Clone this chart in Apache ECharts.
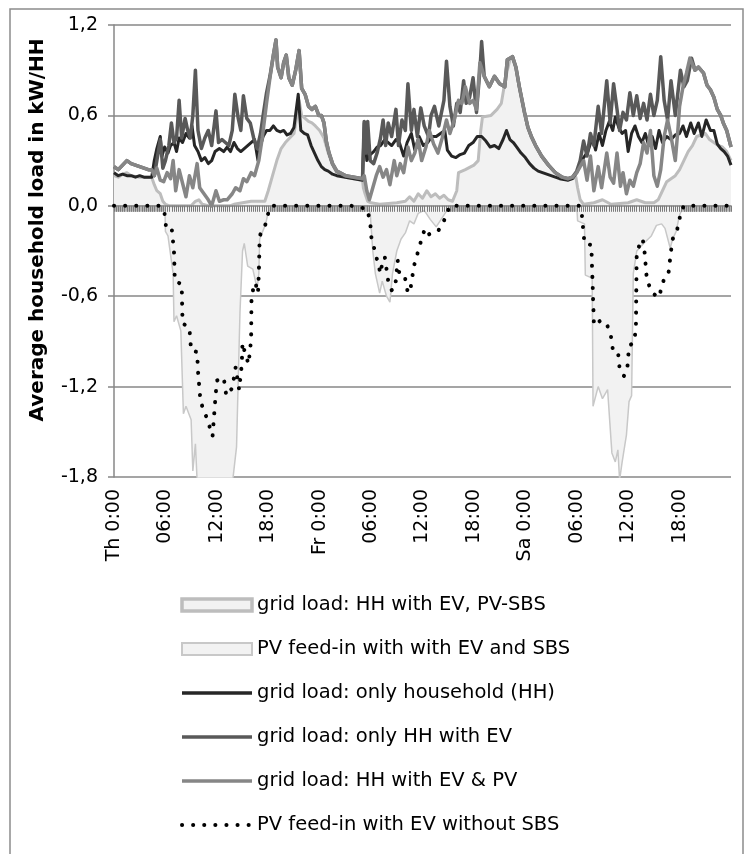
<!DOCTYPE html>
<html>
<head>
<meta charset="utf-8">
<script src="https://cdn.jsdelivr.net/npm/echarts@6/dist/echarts.min.js"></script>
<style>
html, body { margin: 0; padding: 0; background: #fff; }
#main { width: 744px; height: 854px; }
</style>
</head>
<body>
<div id="main"></div>
<script>
'use strict';
// x axis: hours since Thursday 0:00, one label every 6 h
var xTickLabels = ['Th 0:00', '06:00', '12:00', '18:00', 'Fr 0:00', '06:00', '12:00', '18:00', 'Sa 0:00', '06:00', '12:00', '18:00'];
var seriesNames = [
	'grid load: HH with EV, PV-SBS',
	'PV feed-in with with EV and SBS',
	'grid load: only household (HH)',
	'grid load: only HH with EV',
	'grid load: HH with EV & PV',
	'PV feed-in with EV without SBS'
];

// [hour, kW/HH]
var gridSbs = [[0,0.2],[0.5,0.19],[1,0.21],[1.5,0.22],[2,0.2],[3,0.19],[4,0.19],[4.4,0.19],[4.7,0.14],[5,0.1],[5.4,0.08],[5.7,0.03],[6,0.01],[6.5,0],[9,0],[9.5,0.03],[9.9,0.04],[10.3,0.01],[11,0],[13.5,0],[14,0.01],[15,0.02],[16,0.03],[17.6,0.03],[18,0.1],[18.5,0.2],[19,0.3],[19.5,0.38],[20,0.42],[20.5,0.45],[21,0.48],[21.3,0.58],[21.6,0.7],[21.9,0.6],[22.3,0.58],[22.7,0.56],[23.1,0.55],[23.5,0.53],[24,0.5],[24.5,0.45],[25,0.35],[25.5,0.27],[26,0.22],[27,0.19],[28,0.18],[29,0.17],[29.1,0.12],[29.3,0.08],[29.6,0.03],[30,0.02],[31,0.01],[33,0.02],[34,0.03],[34.5,0.06],[35,0.03],[35.5,0.08],[36,0.05],[36.5,0.1],[37,0.06],[37.5,0.08],[38,0.05],[38.5,0.07],[39,0.04],[39.5,0.03],[40,0.1],[40.2,0.22],[41,0.24],[42,0.27],[42.5,0.3],[42.8,0.5],[43,0.59],[44,0.6],[44.7,0.64],[45.2,0.68],[45.7,0.85],[46.2,0.97],[46.5,0.99],[46.9,0.92],[47.3,0.79],[47.9,0.62],[48.3,0.52],[48.7,0.46],[49.2,0.4],[49.9,0.33],[50.7,0.27],[51.5,0.22],[52.3,0.19],[53,0.17],[53.5,0.18],[53.9,0.19],[54.1,0.12],[54.4,0.04],[54.8,0.01],[56,0.02],[57,0.04],[58,0.01],[60,0.02],[61,0.04],[62,0.02],[63,0.02],[63.5,0.04],[64,0.1],[64.5,0.16],[65.5,0.2],[66,0.24],[66.5,0.3],[67,0.36],[67.5,0.4],[68,0.46],[69,0.48],[69.5,0.44],[70,0.42],[70.5,0.4],[71,0.39],[71.5,0.36],[72,0.3]];

var feedSbs = [[0,0],[5.7,0],[5.95,-0.02],[6,-0.17],[6.3,-0.2],[6.9,-0.45],[7,-0.77],[7.3,-0.73],[7.8,-0.83],[8.1,-1.38],[8.4,-1.33],[9,-1.42],[9.2,-1.76],[9.5,-1.58],[9.8,-1.95],[13.6,-1.95],[14.3,-1.6],[14.5,-1.15],[14.7,-0.71],[15,-0.3],[15.2,-0.25],[15.6,-0.4],[16.2,-0.42],[16.7,-0.55],[16.9,-0.45],[17,-0.22],[17.7,-0.12],[18,-0.04],[18.3,0],[29.7,0],[29.9,-0.05],[30.2,-0.3],[30.5,-0.45],[31,-0.58],[31.3,-0.5],[31.8,-0.6],[32.2,-0.64],[32.5,-0.45],[33,-0.3],[33.5,-0.22],[34,-0.18],[34.5,-0.1],[35,-0.12],[35.5,-0.05],[36.2,-0.03],[36.9,-0.09],[37.6,-0.14],[38.4,-0.07],[39.2,0],[54,0],[54.1,-0.1],[54.9,-0.12],[55,-0.46],[55.8,-0.48],[55.9,-1.33],[56.5,-1.2],[57,-1.28],[57.6,-1.22],[58.1,-1.64],[58.5,-1.7],[58.8,-1.62],[59,-1.82],[59.3,-1.7],[59.8,-1.52],[60.1,-1.3],[60.4,-1.26],[60.6,-0.45],[61,-0.3],[61.8,-0.25],[62.7,-0.2],[63.3,-0.13],[63.9,-0.12],[64.3,-0.15],[64.9,-0.28],[65.2,-0.22],[65.6,-0.17],[66,-0.06],[66.5,0],[72,0]];

var hhOnly = [[0,0.22],[0.5,0.2],[1,0.21],[1.5,0.2],[2,0.2],[2.5,0.19],[3,0.2],[3.5,0.19],[4,0.19],[4.4,0.19],[4.7,0.3],[5,0.38],[5.4,0.46],[5.6,0.33],[5.9,0.39],[6.3,0.35],[6.6,0.4],[7,0.42],[7.3,0.36],[7.6,0.45],[8,0.42],[8.4,0.48],[8.8,0.45],[9.1,0.53],[9.4,0.4],[9.8,0.36],[10.2,0.3],[10.6,0.32],[11,0.28],[11.4,0.3],[11.8,0.36],[12.3,0.38],[12.8,0.36],[13.2,0.39],[13.6,0.36],[14,0.42],[14.4,0.38],[14.8,0.36],[15.2,0.38],[15.6,0.4],[16,0.42],[16.4,0.44],[16.8,0.3],[17.1,0.4],[17.4,0.46],[17.8,0.5],[18.2,0.5],[18.6,0.53],[19,0.5],[19.4,0.49],[19.8,0.5],[20.2,0.47],[20.6,0.48],[21,0.52],[21.5,0.74],[21.8,0.5],[22.2,0.48],[22.6,0.47],[23,0.4],[23.4,0.35],[23.8,0.3],[24.2,0.26],[24.6,0.24],[25,0.23],[25.5,0.21],[26,0.2],[27,0.19],[28,0.18],[29,0.17],[29.2,0.55],[29.5,0.3],[29.9,0.34],[30.3,0.36],[30.7,0.39],[31.1,0.4],[31.6,0.44],[32,0.42],[32.4,0.4],[32.9,0.44],[33.3,0.42],[33.8,0.33],[34.2,0.42],[34.7,0.48],[35.1,0.37],[35.6,0.46],[36.1,0.4],[36.6,0.42],[37.1,0.46],[37.6,0.46],[38.1,0.48],[38.6,0.5],[38.9,0.37],[39.4,0.33],[39.9,0.32],[40.4,0.34],[40.9,0.35],[41.4,0.4],[41.9,0.42],[42.4,0.46],[42.9,0.46],[43.4,0.43],[43.9,0.39],[44.4,0.4],[44.9,0.38],[45.4,0.44],[45.8,0.5],[46.2,0.44],[46.6,0.42],[47,0.39],[47.5,0.35],[48,0.32],[48.5,0.28],[49,0.25],[49.5,0.23],[50,0.22],[51,0.2],[52,0.18],[53,0.17],[53.5,0.18],[54,0.22],[54.4,0.28],[54.8,0.32],[55.3,0.36],[55.8,0.45],[56.2,0.37],[56.6,0.48],[57,0.4],[57.4,0.5],[57.8,0.56],[58.2,0.5],[58.5,0.59],[58.9,0.52],[59.3,0.48],[59.7,0.5],[60,0.36],[60.4,0.48],[60.8,0.53],[61.2,0.46],[61.6,0.42],[62,0.48],[62.4,0.4],[62.8,0.46],[63.2,0.38],[63.6,0.5],[64,0.42],[64.5,0.46],[65,0.44],[65.5,0.47],[66,0.48],[66.4,0.53],[66.8,0.46],[67.3,0.55],[67.7,0.48],[68.2,0.55],[68.6,0.46],[69.1,0.57],[69.6,0.5],[70,0.5],[70.4,0.41],[70.8,0.38],[71.2,0.36],[71.6,0.33],[72,0.27]];

var hhEv = [[0,0.26],[0.5,0.24],[1,0.27],[1.5,0.3],[2,0.28],[2.5,0.27],[3,0.26],[3.5,0.25],[4,0.24],[4.4,0.24],[4.7,0.2],[5,0.3],[5.4,0.44],[5.7,0.25],[6,0.3],[6.4,0.4],[6.7,0.55],[7,0.42],[7.3,0.45],[7.6,0.7],[7.9,0.45],[8.3,0.58],[8.6,0.5],[8.9,0.45],[9.2,0.6],[9.5,0.9],[9.8,0.5],[10.2,0.38],[10.6,0.45],[11,0.5],[11.4,0.4],[11.9,0.63],[12.2,0.42],[12.6,0.44],[13,0.42],[13.4,0.4],[13.8,0.5],[14.1,0.74],[14.5,0.58],[14.8,0.5],[15.1,0.73],[15.5,0.58],[15.9,0.55],[16.3,0.45],[16.7,0.38],[17.1,0.48],[17.4,0.6],[17.8,0.75],[18.2,0.86],[18.6,1.0],[18.9,1.1],[19.1,0.92],[19.5,0.85],[19.8,0.95],[20.1,1.0],[20.4,0.85],[20.8,0.8],[21.2,0.9],[21.6,1.03],[21.9,0.78],[22.3,0.74],[22.7,0.66],[23.1,0.64],[23.5,0.66],[23.9,0.6],[24.2,0.6],[24.5,0.55],[24.8,0.42],[25.1,0.35],[25.5,0.28],[26,0.23],[27,0.2],[28,0.19],[29,0.18],[29.2,0.56],[29.4,0.35],[29.6,0.56],[29.9,0.3],[30.3,0.28],[30.7,0.35],[31.1,0.45],[31.4,0.57],[31.7,0.4],[32,0.55],[32.4,0.46],[32.9,0.64],[33.2,0.4],[33.6,0.57],[34,0.5],[34.3,0.81],[34.7,0.5],[35,0.64],[35.4,0.46],[35.8,0.65],[36.2,0.53],[36.7,0.46],[37,0.6],[37.4,0.66],[37.9,0.53],[38.5,0.7],[38.8,0.96],[39.2,0.66],[39.6,0.53],[40,0.68],[40.4,0.62],[40.8,0.83],[41.1,0.68],[41.5,0.72],[41.9,0.85],[42.3,0.62],[42.7,0.9],[42.9,1.09],[43.2,0.86],[43.8,0.79],[44.4,0.86],[45,0.81],[45.6,0.79],[45.9,0.97],[46.5,0.99],[46.9,0.92],[47.3,0.79],[47.9,0.62],[48.3,0.52],[48.7,0.46],[49.2,0.4],[49.9,0.33],[50.7,0.27],[51.5,0.22],[52.3,0.19],[53,0.18],[53.5,0.19],[54,0.23],[54.4,0.3],[54.8,0.43],[55.2,0.33],[55.6,0.48],[56,0.4],[56.5,0.66],[56.9,0.48],[57.5,0.83],[57.9,0.55],[58.3,0.81],[58.7,0.64],[59,0.5],[59.4,0.62],[59.8,0.57],[60.2,0.75],[60.6,0.6],[61,0.73],[61.4,0.58],[61.8,0.68],[62.2,0.57],[62.6,0.74],[63,0.6],[63.4,0.7],[63.8,0.99],[64.2,0.7],[64.6,0.57],[65,0.83],[65.5,0.6],[65.8,0.75],[66.1,0.9],[66.5,0.79],[66.9,0.83],[67.4,0.98],[67.8,0.9],[68.2,0.92],[68.8,0.88],[69.2,0.8],[69.6,0.77],[70,0.72],[70.4,0.64],[70.8,0.6],[71.1,0.55],[71.5,0.5],[72,0.39]];

var hhEvPv = [[0,0.26],[0.5,0.24],[1,0.27],[1.5,0.3],[2,0.28],[2.5,0.27],[3,0.26],[3.5,0.25],[4,0.24],[4.4,0.24],[4.7,0.2],[5,0.25],[5.4,0.17],[5.8,0.16],[6.2,0.22],[6.6,0.18],[6.9,0.3],[7.2,0.1],[7.6,0.24],[8,0.15],[8.4,0.06],[8.8,0.2],[9.2,0.12],[9.7,0.28],[10,0.12],[10.5,0.08],[11,0.04],[11.4,0],[11.9,0.1],[12.3,0.03],[12.8,0.04],[13.2,0.04],[13.8,0.08],[14.2,0.12],[14.7,0.1],[15.1,0.18],[15.5,0.16],[16,0.22],[16.4,0.2],[16.9,0.3],[17.3,0.45],[17.8,0.68],[18.2,0.85],[18.6,1.0],[18.9,1.1],[19.1,0.92],[19.5,0.85],[19.8,0.95],[20.1,1.0],[20.4,0.85],[20.8,0.8],[21.2,0.9],[21.6,1.03],[21.9,0.78],[22.3,0.74],[22.7,0.66],[23.1,0.64],[23.5,0.66],[23.9,0.6],[24.2,0.6],[24.5,0.55],[24.8,0.42],[25.1,0.35],[25.5,0.28],[26,0.23],[27,0.2],[28,0.19],[29,0.18],[29.2,0.2],[29.5,0.1],[29.8,0.04],[30.2,0.12],[30.6,0.2],[31,0.26],[31.4,0.19],[31.8,0.24],[32.2,0.14],[32.7,0.3],[33,0.2],[33.4,0.28],[33.8,0.22],[34.3,0.39],[34.7,0.3],[35.1,0.35],[35.5,0.44],[35.9,0.3],[36.4,0.39],[36.8,0.5],[37.3,0.41],[37.8,0.35],[38.3,0.45],[38.8,0.57],[39.2,0.48],[39.7,0.57],[40.2,0.7],[40.6,0.68],[41,0.79],[41.5,0.68],[41.9,0.7],[42.3,0.64],[42.7,0.95],[43.2,0.86],[43.8,0.79],[44.4,0.86],[45,0.81],[45.6,0.79],[45.9,0.97],[46.5,0.99],[46.9,0.92],[47.3,0.79],[47.9,0.62],[48.3,0.52],[48.7,0.46],[49.2,0.4],[49.9,0.33],[50.7,0.27],[51.5,0.22],[52.3,0.19],[53,0.18],[53.5,0.19],[54,0.22],[54.4,0.26],[54.8,0.3],[55.2,0.17],[55.6,0.33],[56,0.1],[56.5,0.26],[56.9,0.12],[57.5,0.35],[57.9,0.19],[58.3,0.15],[58.7,0.35],[59.1,0.13],[59.4,0.22],[59.8,0.08],[60.2,0.17],[60.6,0.13],[61,0.22],[61.4,0.28],[61.8,0.42],[62.2,0.35],[62.6,0.5],[63,0.2],[63.4,0.13],[63.8,0.24],[64.2,0.46],[64.6,0.57],[65,0.46],[65.5,0.3],[65.8,0.5],[66,0.66],[66.4,0.79],[66.8,0.88],[67.2,0.98],[67.4,0.98],[67.8,0.9],[68.2,0.92],[68.8,0.88],[69.2,0.8],[69.6,0.77],[70,0.72],[70.4,0.64],[70.8,0.6],[71.1,0.55],[71.5,0.5],[72,0.39]];

var feedNoSbs = [[0,0],[5.4,0],[5.9,-0.05],[6.05,-0.13],[6.7,-0.13],[7,-0.3],[7.1,-0.5],[7.9,-0.52],[8,-0.78],[8.8,-0.81],[9,-0.96],[9.7,-0.97],[9.8,-1.1],[10.1,-1.3],[10.9,-1.42],[11.5,-1.53],[11.8,-1.3],[12,-1.16],[12.8,-1.14],[13.1,-1.26],[13.8,-1.21],[14.2,-1.07],[14.6,-1.22],[14.9,-1.06],[15,-0.91],[15.3,-0.98],[15.7,-1.05],[16,-0.89],[16.05,-0.59],[16.5,-0.51],[16.8,-0.58],[16.9,-0.45],[17,-0.2],[17.7,-0.12],[18,-0.05],[18.4,0],[27.7,0],[29.5,-0.02],[29.9,-0.1],[30,-0.2],[31.1,-0.45],[31.3,-0.38],[31.6,-0.34],[32,-0.5],[32.4,-0.56],[32.8,-0.55],[33.1,-0.36],[33.3,-0.45],[33.9,-0.46],[34.3,-0.58],[34.6,-0.55],[35,-0.4],[35.5,-0.3],[36,-0.2],[36.3,-0.15],[36.8,-0.19],[37.8,-0.17],[38.5,-0.1],[39.2,0],[54.3,0],[54.6,-0.06],[54.9,-0.25],[55.7,-0.26],[56,-0.78],[56.5,-0.75],[57,-0.8],[57.6,-0.8],[58,-0.87],[58.2,-0.95],[58.8,-0.96],[59,-1.08],[59.5,-1.13],[59.9,-1.08],[60.1,-0.93],[60.6,-0.91],[60.9,-0.83],[61,-0.3],[61.7,-0.22],[61.9,-0.3],[62.2,-0.5],[62.9,-0.58],[63.5,-0.61],[63.9,-0.55],[64.2,-0.48],[64.7,-0.45],[65,-0.3],[65.2,-0.22],[65.6,-0.18],[65.9,-0.12],[66.1,-0.05],[66.5,0],[72,0]];

var FONT = 'DejaVu Sans';
var GRID_GRAY = '#878787';

function plainLine(name, data, color, width, z) {
	return {
		name: name,
		type: 'line',
		data: data,
		symbol: 'none',
		z: z,
		itemStyle: { color: color },
		lineStyle: { color: color, width: width, join: 'round' }
	};
}

var chart = echarts.init(document.getElementById('main'), null, { renderer: 'canvas' });
chart.setOption({
	animation: false,
	backgroundColor: '#fff',
	graphic: [{
		type: 'rect',
		shape: { x: 10, y: 9, width: 733, height: 900 },
		style: { fill: 'none', stroke: '#8c8c8c', lineWidth: 1.5 },
		silent: true
	}],
	grid: { left: 114, right: 13, top: 25, bottom: 377, containLabel: false },
	xAxis: [{
		type: 'value',
		min: 0,
		max: 72,
		interval: 6,
		axisLine: { show: false, onZero: false },
		axisTick: { show: false },
		splitLine: { show: false },
		axisLabel: {
			rotate: 90,
			margin: 12,
			fontFamily: FONT,
			fontSize: 19,
			color: '#000',
			formatter: function (v) { return xTickLabels[Math.round(v / 6)] || ''; }
		}
	}, {
		type: 'value',
		min: 0,
		max: 72,
		interval: 6,
		position: 'bottom',
		z: 3,
		axisLine: { show: true, onZero: true, lineStyle: { color: GRID_GRAY, width: 1.5 } },
		axisTick: { show: true, length: 6, lineStyle: { color: '#7a7a7a', width: 1 } },
		minorTick: { show: true, splitNumber: 24, length: 6, lineStyle: { color: '#7a7a7a', width: 1 } },
		axisLabel: { show: false },
		splitLine: { show: false }
	}],
	yAxis: {
		type: 'value',
		min: -1.8,
		max: 1.2,
		interval: 0.6,
		name: 'Average household load in kW/HH',
		nameLocation: 'middle',
		nameGap: 66,
		nameTextStyle: { fontFamily: FONT, fontWeight: 'bold', fontSize: 20, color: '#000', padding: [0, 0, 0, 42] },
		axisLine: { show: true, lineStyle: { color: GRID_GRAY, width: 1.5 } },
		axisTick: { show: true, length: 6, lineStyle: { color: GRID_GRAY, width: 1.5 } },
		splitLine: { show: true, lineStyle: { color: GRID_GRAY, width: 1.5 } },
		axisLabel: {
			margin: 16,
			fontFamily: FONT,
			fontSize: 19,
			color: '#000',
			formatter: function (v) { return v.toFixed(1).replace('.', ','); }
		}
	},
	legend: {
		orient: 'vertical',
		left: 175,
		top: 590,
		itemWidth: 70,
		itemHeight: 12,
		itemGap: 24,
		textStyle: { fontFamily: FONT, fontSize: 19.5, color: '#000' },
		data: [
			{ name: seriesNames[0], icon: 'rect', itemStyle: { color: '#f2f2f2', borderColor: '#bdbdbd', borderWidth: 3.5 } },
			{ name: seriesNames[1], icon: 'rect', itemStyle: { color: '#f2f2f2', borderColor: '#c8c8c8', borderWidth: 2 } },
			{ name: seriesNames[2], itemStyle: { opacity: 0 }, lineStyle: { width: 3.5 } },
			{ name: seriesNames[3], itemStyle: { opacity: 0 }, lineStyle: { width: 3.5 } },
			{ name: seriesNames[4], itemStyle: { opacity: 0 }, lineStyle: { width: 3.5 } },
			{ name: seriesNames[5], itemStyle: { opacity: 0 }, lineStyle: { width: 4 } }
		]
	},
	series: [{
		name: seriesNames[0],
		type: 'line',
		data: gridSbs,
		symbol: 'none',
		z: 1,
		itemStyle: { color: '#bdbdbd' },
		lineStyle: { color: '#bdbdbd', width: 3, join: 'round' },
		areaStyle: { color: '#f2f2f2', opacity: 1, origin: 0 }
	}, {
		name: seriesNames[1],
		type: 'line',
		data: feedSbs,
		symbol: 'none',
		z: 1,
		itemStyle: { color: '#c8c8c8' },
		lineStyle: { color: '#c8c8c8', width: 1.5 },
		areaStyle: { color: '#f2f2f2', opacity: 1, origin: 0 },
		markArea: {
			silent: true,
			itemStyle: { color: '#b5b5b5' },
			data: [[{ yAxis: 0 }, { yAxis: -0.04 }]]
		}
	},
	plainLine(seriesNames[2], hhOnly, '#262626', 3, 4),
	plainLine(seriesNames[3], hhEv, '#595959', 3.5, 4),
	plainLine(seriesNames[4], hhEvPv, '#868686', 3.5, 4), {
		name: seriesNames[5],
		type: 'line',
		data: feedNoSbs,
		symbol: 'none',
		z: 5,
		itemStyle: { color: '#000' },
		lineStyle: { color: '#000', width: 4, type: [0.1, 11], cap: 'round' }
	}]
});
</script>
</body>
</html>
